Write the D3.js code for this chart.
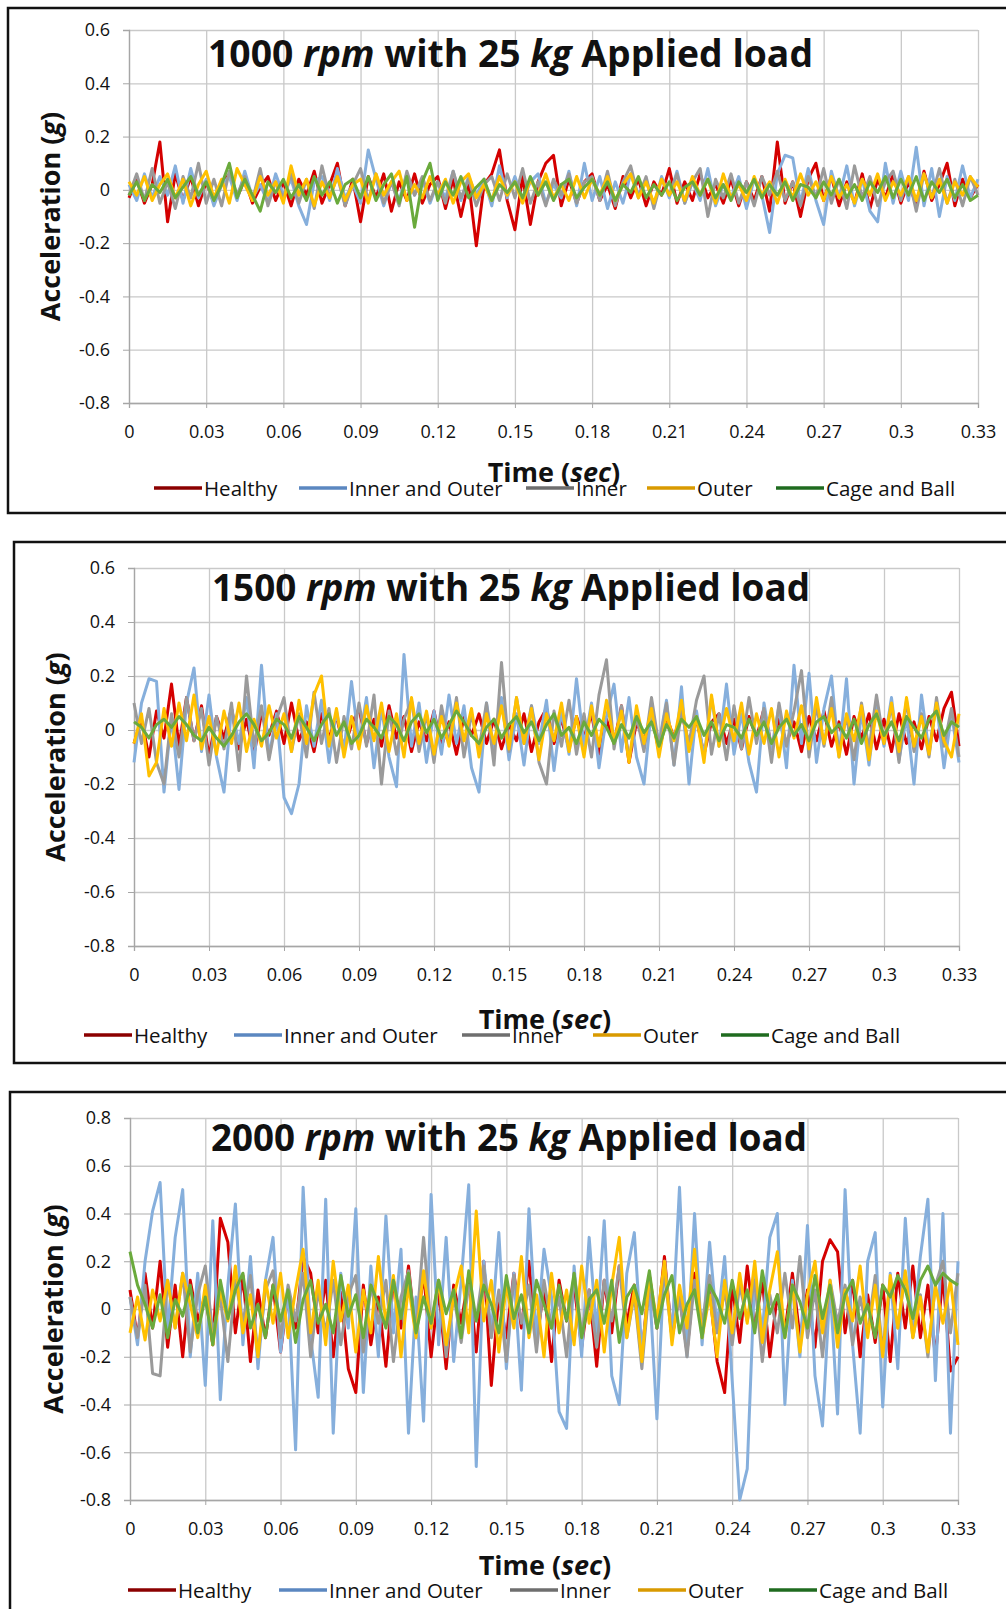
<!DOCTYPE html>
<html>
<head>
<meta charset="utf-8">
<script src="https://cdn.jsdelivr.net/npm/d3@7"></script>
<style>
  html, body { margin: 0; padding: 0; background: #fff; }
  svg { display: block; }
  text { font-family: "Open Sans", "Noto Sans", "DejaVu Sans", sans-serif; fill: #111; }
</style>
</head>
<body>
<div id="chart"></div>
<script>
// Schwingungssignale (Beschleunigung) für drei Drehzahlen, je fünf Lagerzustände.

const PANEL_SPEEDS = ["1000", "1500", "2000"];
const SERIES_NAMES = ["Healthy", "Inner and Outer", "Inner", "Outer", "Cage and Ball"];

const X_TICKS = [0, 0.03, 0.06, 0.09, 0.12, 0.15, 0.18, 0.21, 0.24, 0.27, 0.3, 0.33];
const X_TICK_LABELS = ["0", "0.03", "0.06", "0.09", "0.12", "0.15", "0.18", "0.21", "0.24", "0.27", "0.3", "0.33"];
const Y_TICKS_A = [-0.8, -0.6, -0.4, -0.2, 0, 0.2, 0.4, 0.6];
const Y_TICK_LABELS_A = ["-0.8", "-0.6", "-0.4", "-0.2", "0", "0.2", "0.4", "0.6"];
const Y_TICKS_B = [-0.8, -0.6, -0.4, -0.2, 0, 0.2, 0.4, 0.6, 0.8];
const Y_TICK_LABELS_B = ["-0.8", "-0.6", "-0.4", "-0.2", "0", "0.2", "0.4", "0.6", "0.8"];

// Abtastzeitpunkte (s)
const TIME = [
  0, 0.003, 0.006, 0.009, 0.012, 0.015, 0.018, 0.021, 0.024, 0.027,
  0.03, 0.033, 0.036, 0.039, 0.042, 0.045, 0.048, 0.051, 0.054, 0.057,
  0.06, 0.063, 0.066, 0.069, 0.072, 0.075, 0.078, 0.081, 0.084, 0.087,
  0.09, 0.093, 0.096, 0.099, 0.102, 0.105, 0.108, 0.111, 0.114, 0.117,
  0.12, 0.123, 0.126, 0.129, 0.132, 0.135, 0.138, 0.141, 0.144, 0.147,
  0.15, 0.153, 0.156, 0.159, 0.162, 0.165, 0.168, 0.171, 0.174, 0.177,
  0.18, 0.183, 0.186, 0.189, 0.192, 0.195, 0.198, 0.201, 0.204, 0.207,
  0.21, 0.213, 0.216, 0.219, 0.222, 0.225, 0.228, 0.231, 0.234, 0.237,
  0.24, 0.243, 0.246, 0.249, 0.252, 0.255, 0.258, 0.261, 0.264, 0.267,
  0.27, 0.273, 0.276, 0.279, 0.282, 0.285, 0.288, 0.291, 0.294, 0.297,
  0.3, 0.303, 0.306, 0.309, 0.312, 0.315, 0.318, 0.321, 0.324, 0.327,
  0.33
];

// --- 1000 rpm ---
const HEALTHY_1000 = [
  -0.03, 0.04, -0.05, 0.02, 0.18, -0.12, 0.06, -0.04, 0.05, -0.06,
  0.03, -0.05, 0.02, 0.06, -0.03, 0.04, -0.05, 0.01, 0.05, -0.04,
  0.03, -0.06, 0.04, -0.02, 0.07, -0.05, 0.02, 0.1, -0.06, 0.04,
  -0.12, 0.05, -0.03, 0.06, -0.08, 0.03, -0.04, 0.06, -0.05, 0.02,
  0.05, -0.07, 0.04, -0.1, 0.03, -0.21, 0.02, 0.06, 0.15, -0.04,
  -0.15, 0.05, -0.13, 0.03, 0.1, 0.13, -0.06, 0.04, -0.05, 0.03,
  0.06, -0.04, 0.02, -0.07, 0.05, -0.03, 0.04, -0.06, 0.03, -0.02,
  0.08, -0.05, 0.03, -0.04, 0.06, -0.03, 0.02, -0.05, 0.04, -0.06,
  0.03, -0.04, 0.05, -0.08, 0.18, -0.05, 0.03, -0.1, 0.04, 0.1,
  -0.04, 0.05, -0.06, 0.03, -0.05, 0.06, -0.07, 0.04, -0.03, 0.06,
  -0.05, 0.03, -0.06, 0.07, -0.04, 0.02, 0.1, -0.06, 0.04, -0.03,
  0.02
];
const INNER_OUTER_1000 = [
  0.02, -0.04, 0.06, -0.03, 0.05, -0.02, 0.09, -0.05, 0.08, -0.03,
  0.04, -0.06, 0.02, 0.05, -0.04, 0.07, -0.03, 0.02, -0.05, 0.06,
  -0.02, 0.04, -0.06, -0.13, 0.03, 0.05, -0.04, 0.08, -0.03, 0.02,
  -0.05, 0.15, 0.04, -0.06, 0.03, -0.04, 0.06, -0.02, 0.04, -0.05,
  0.03, -0.03, 0.07, -0.04, 0.05, -0.02, 0.04, -0.06, 0.09, -0.03,
  0.05, -0.04, 0.03, 0.06, -0.05, 0.02, -0.03, 0.07, -0.06, 0.1,
  -0.04, 0.05, -0.07, 0.03, -0.05, 0.06, -0.02, 0.04, -0.06, 0.05,
  -0.03, 0.07, -0.05, 0.03, -0.04, 0.08, -0.06, 0.02, -0.03, 0.05,
  -0.07, 0.04, -0.02, -0.16, 0.06, 0.13, 0.12, -0.05, 0.08, -0.04,
  -0.13, 0.07, -0.03, 0.09, -0.06, 0.04, -0.08, -0.12, 0.1, -0.05,
  0.07, -0.04, 0.16, -0.06, 0.08, -0.1, 0.05, -0.04, 0.09, -0.03,
  0.04
];
const INNER_1000 = [
  -0.02, 0.06, -0.04, 0.08, -0.05, 0.03, -0.07, 0.05, -0.03, 0.1,
  -0.05, 0.04, -0.06, 0.07, -0.02, 0.05, -0.04, 0.08, -0.06, 0.03,
  -0.03, 0.06, -0.05, 0.04, -0.07, 0.09, -0.03, 0.05, -0.06, 0.02,
  0.08, -0.04, 0.06, -0.05, 0.03, -0.06, 0.07, -0.02, 0.05, -0.04,
  0.03, -0.05, 0.07, -0.03, 0.04, -0.06, 0.02, 0.05, -0.04, 0.06,
  -0.03, 0.08, -0.05, 0.03, -0.06, 0.04, -0.02, 0.06, -0.05, 0.03,
  0.05, -0.04, 0.07, -0.06, 0.03, 0.09, -0.03, 0.05, -0.07, 0.04,
  -0.02, 0.06, -0.05, 0.03, 0.08, -0.1, 0.04, -0.03, 0.06, -0.05,
  0.03, -0.06, 0.05, -0.02, 0.07, -0.04, 0.03, -0.06, 0.05, -0.03,
  0.08, -0.05, 0.04, -0.07, 0.09, -0.03, 0.05, -0.06, 0.03, 0.07,
  -0.04, 0.05, -0.08, 0.06, -0.03, 0.08, -0.05, 0.04, -0.06, 0.05,
  -0.02
];
const OUTER_1000 = [
  0.03, -0.02, 0.05, -0.04, 0.02, 0.06, -0.03, 0.04, -0.06, 0.02,
  0.07, -0.03, 0.04, -0.05, 0.08, 0.02, -0.04, 0.05, -0.02, 0.03,
  -0.05, 0.09, -0.02, 0.04, -0.06, 0.03, -0.03, 0.05, -0.04, 0.02,
  0.04, -0.05, 0.06, -0.02, 0.03, 0.07, -0.04, 0.02, -0.03, 0.05,
  -0.02, 0.04, -0.05, 0.03, 0.06, -0.03, 0.02, -0.04, 0.05, -0.02,
  0.03, -0.05, 0.04, -0.02, 0.06, -0.03, 0.02, -0.04, 0.05, -0.03,
  0.04, -0.02, 0.05, -0.04, 0.02, 0.06, -0.03, 0.03, -0.05, 0.04,
  -0.02, 0.03, -0.04, 0.05, -0.02, 0.04, -0.05, 0.06, -0.03, 0.02,
  -0.04, 0.05, -0.02, 0.03, -0.05, 0.04, -0.03, 0.06, -0.02, 0.03,
  -0.04, 0.05, -0.03, 0.02, -0.05, 0.04, -0.02, 0.06, -0.04, 0.03,
  -0.02, 0.05, -0.04, 0.06, -0.03, 0.04, -0.05, 0.03, -0.02, 0.05,
  0.01
];
const CAGE_BALL_1000 = [
  -0.02, 0.03, -0.04, 0.02, -0.01, 0.04, -0.03, 0.01, 0.05, -0.02,
  0.03, -0.04, 0.02, 0.1, -0.03, 0.04, -0.02, -0.08, 0.03, -0.01,
  0.04, -0.03, 0.02, -0.04, 0.05, -0.02, 0.03, -0.05, 0.02, 0.04,
  -0.03, 0.05, -0.04, 0.02, 0.06, -0.05, 0.05, -0.14, 0.03, 0.1,
  -0.04, 0.03, -0.02, 0.05, -0.03, 0.01, 0.04, -0.04, 0.02, -0.01,
  0.03, -0.03, 0.05, -0.02, 0.03, -0.04, 0.02, 0.04, -0.03, 0.01,
  0.04, -0.02, 0.03, -0.04, 0.02, -0.01, 0.05, -0.03, 0.02, -0.02,
  0.03, -0.04, 0.01, 0.03, -0.02, 0.04, -0.03, 0.02, -0.04, 0.03,
  -0.01, 0.04, -0.03, 0.02, -0.02, 0.03, -0.04, 0.02, 0.01, -0.03,
  0.03, -0.02, 0.04, -0.03, 0.02, -0.04, 0.03, -0.01, 0.05, -0.03,
  0.04, -0.02, 0.05, -0.04, 0.03, -0.01, 0.04, -0.03, 0.02, -0.04,
  -0.02
];

// --- 1500 rpm ---
const HEALTHY_1500 = [
  -0.05, 0.04, -0.1, 0.07, -0.03, 0.17, -0.06, 0.12, -0.04, 0.09,
  -0.1, 0.05, -0.03, 0.08, -0.07, 0.04, -0.09, 0.06, -0.02, 0.07,
  -0.05, 0.1, -0.04, 0.03, -0.08, 0.06, -0.03, 0.05, -0.07, 0.02,
  0.08, -0.05, 0.04, -0.06, 0.09, -0.03, 0.05, -0.08, 0.03, -0.04,
  0.07, -0.06, 0.03, -0.09, 0.05, -0.02, 0.06, -0.05, 0.04, -0.07,
  0.02, -0.04, 0.06, -0.08, 0.03, 0.08, -0.05, 0.04, -0.07, 0.05,
  -0.03, 0.06, -0.09, 0.04, -0.05, 0.09, -0.12, 0.03, -0.04, 0.06,
  -0.08, 0.05, -0.03, 0.07, -0.06, 0.04, -0.09, 0.03, 0.06, -0.05,
  0.04, -0.07, 0.05, -0.03, 0.08, -0.06, 0.04, -0.05, 0.03, -0.08,
  0.05, -0.04, 0.07, -0.06, 0.03, -0.09, 0.05, -0.03, 0.06, -0.07,
  0.04, -0.08, 0.06, -0.05, 0.03, -0.07, 0.05, -0.04, 0.08, 0.14,
  -0.06
];
const INNER_OUTER_1500 = [
  -0.12, 0.1, 0.19, 0.18, -0.23, 0.05, -0.22, 0.1, 0.23, -0.08,
  0.13, -0.1, -0.23, 0.08, -0.05, 0.12, -0.14, 0.24, -0.1, 0.06,
  -0.25, -0.31, -0.2, 0.09, -0.06, 0.11, -0.12, 0.07, -0.08, 0.18,
  -0.05, 0.12, -0.14, 0.08, -0.1, -0.21, 0.28, -0.06, 0.1, -0.12,
  0.07, -0.09, 0.13, -0.05, 0.09, -0.14, -0.23, 0.1, -0.07, 0.12,
  -0.11, 0.06, -0.13, 0.09, -0.05, 0.11, -0.15, 0.07, -0.09, 0.19,
  -0.06, 0.1, -0.14, 0.05, 0.17, -0.08, 0.12, -0.1, -0.2, 0.08,
  -0.05, 0.11, -0.13, 0.16, -0.2, 0.07, -0.1, 0.12, -0.06, 0.17,
  -0.09, 0.06, -0.12, -0.23, 0.1, -0.07, 0.09, -0.14, 0.24, -0.05,
  0.21, -0.12, 0.08, 0.2, -0.1, 0.19, -0.2, 0.07, -0.13, 0.1,
  -0.06, 0.12, -0.11, 0.05, -0.2, 0.13, -0.08, 0.1, -0.14, 0.06,
  -0.12
];
const INNER_1500 = [
  0.1, -0.05, 0.08, -0.12, -0.2, 0.06, -0.1, 0.12, -0.04, 0.08,
  -0.13, 0.05, -0.07, 0.1, -0.15, 0.2, -0.06, 0.09, -0.11, 0.04,
  0.12, -0.08, 0.06, -0.1, 0.14, -0.05, 0.08, -0.12, 0.05, -0.07,
  0.1, -0.06, 0.13, -0.2, 0.07, -0.09, 0.04, 0.11, -0.08, 0.06,
  -0.12, 0.09, -0.05, 0.12, -0.1, 0.06, -0.07, 0.1, -0.13, 0.25,
  -0.08, 0.12, -0.05, 0.09, -0.12, -0.2, 0.07, -0.06, 0.11, -0.09,
  0.06, -0.1, 0.13, 0.26, -0.07, 0.09, -0.11, 0.05, -0.08, 0.12,
  -0.06, 0.1, -0.13, 0.07, -0.05, 0.11, 0.2, -0.09, 0.06, -0.11,
  0.09, -0.07, 0.12, -0.05, 0.08, -0.12, 0.1, -0.06, 0.07, 0.22,
  -0.1, 0.09, -0.06, 0.12, -0.08, 0.05, -0.11, 0.1, -0.07, 0.13,
  -0.05, 0.09, -0.12, 0.11, -0.08, 0.06, -0.1, 0.12, -0.06, 0.08,
  -0.1
];
const OUTER_1500 = [
  -0.05, 0.06, -0.17, -0.12, 0.08, -0.06, 0.1, -0.04, 0.13, -0.07,
  0.05, -0.09, 0.07, -0.05, 0.1, -0.08, 0.04, -0.06, 0.09, -0.03,
  0.06, -0.08, 0.11, -0.05, 0.13, 0.2, -0.06, 0.08, -0.1, 0.05,
  -0.07, 0.09, -0.04, 0.1, -0.08, 0.06, -0.1, 0.12, -0.05, 0.07,
  -0.09, 0.05, -0.06, 0.1, -0.04, 0.08, -0.1, 0.06, -0.05, 0.09,
  -0.07, 0.12, -0.05, 0.08, -0.11, 0.06, -0.04, 0.1, -0.08, 0.05,
  -0.1, 0.09, -0.06, 0.11, -0.04, 0.07, -0.12, 0.09, -0.05, 0.08,
  -0.1, 0.06, -0.04, 0.11, -0.08, 0.05, -0.12, 0.13, -0.06, 0.08,
  -0.04, 0.1, -0.09, 0.06, -0.05, 0.08, -0.1, 0.07, -0.03, 0.09,
  -0.07, 0.12, -0.05, 0.08, -0.1, 0.06, -0.04, 0.09, -0.11, 0.07,
  -0.05, 0.1, -0.08, 0.12, -0.06, 0.05, -0.09, 0.1, -0.04, -0.1,
  0.06
];
const CAGE_BALL_1500 = [
  0.03, 0.01, -0.03, 0.02, 0.04, 0.01, 0.05, 0.02, -0.02, -0.04,
  0.01, -0.03, -0.06, -0.02, 0.03, 0.06, 0.02, -0.04, -0.01, 0.04,
  0.02, -0.03, 0.05, 0.01, -0.04, 0.02, 0.06, -0.02, 0.03, -0.05,
  -0.02, 0.04, 0.01, -0.03, 0.05, 0.02, -0.04, 0.03, 0.06, -0.01,
  0.04, -0.03, 0.02, 0.07, 0.03, -0.02, -0.05, 0.01, 0.04, -0.03,
  0.02, 0.05, -0.01, 0.03, -0.04, 0.02, 0.06, -0.02, 0.01, -0.05,
  0.03, -0.02, 0.04, 0.01, -0.05, 0.02, -0.03, 0.05, -0.01, 0.03,
  -0.06, 0.02, -0.03, 0.04, 0.01, 0.05, -0.02, 0.03, -0.04, 0.02,
  0.01, -0.03, 0.04, -0.02, 0.03, -0.05, 0.01, 0.04, -0.02, 0.02,
  -0.04, 0.03, 0.05, -0.01, 0.02, -0.03, 0.04, -0.05, 0.02, 0.06,
  -0.02, 0.03, -0.04, 0.05, 0.01, -0.03, 0.04, 0.07, -0.02, 0.03,
  0.01
];

// --- 2000 rpm ---
const HEALTHY_2000 = [
  0.08, -0.12, 0.15, -0.08, 0.2, -0.16, 0.1, -0.2, 0.12, -0.05,
  0.06, -0.15, 0.38, 0.28, -0.1, 0.14, -0.22, 0.08, -0.12, 0.1,
  -0.18, 0.06, -0.08, 0.22, 0.15, -0.1, 0.12, -0.2, 0.07, -0.25,
  -0.35, 0.1, -0.15, 0.05, -0.24, 0.12, -0.08, 0.18, -0.12, 0.15,
  -0.2, 0.08, -0.25, 0.1, -0.06, 0.14, -0.18, 0.2, -0.32, 0.06,
  -0.12, 0.15, -0.08, 0.2, -0.14, 0.09, -0.22, 0.12, -0.05, 0.1,
  -0.16, 0.08, -0.24, 0.12, -0.1, 0.18, -0.06, 0.1, -0.2, 0.14,
  -0.08, 0.22, -0.12, 0.06, -0.18, 0.15, -0.1, 0.08, -0.22, -0.35,
  0.1, -0.14, 0.18, -0.08, 0.12, -0.2, 0.06, -0.1, 0.15, -0.12,
  0.08, -0.16, 0.2, 0.29, 0.24, -0.1, 0.12, -0.2, 0.06, -0.14,
  0.1, -0.22, 0.15, -0.08, 0.18, -0.12, 0.1, -0.2, 0.14, -0.26,
  -0.2
];
const INNER_OUTER_2000 = [
  0.05, -0.15, 0.2, 0.41, 0.53, -0.1, 0.3, 0.5, -0.2, 0.15,
  -0.32, 0.37, -0.38, 0.1, 0.44, -0.15, 0.22, -0.25, 0.12, 0.3,
  -0.18, 0.08, -0.59, 0.51, -0.12, -0.37, 0.46, -0.52, 0.15, -0.08,
  0.42, -0.35, 0.18, -0.2, 0.39, -0.1, 0.25, -0.52, 0.05, -0.47,
  0.48, -0.15, 0.3, -0.22, 0.12, 0.52, -0.66, 0.2, -0.1, 0.32,
  -0.25, 0.15, -0.34, 0.42, -0.12, 0.25, 0.05, -0.43, -0.5, 0.18,
  -0.2, 0.3, -0.1, 0.37, -0.28, -0.4, 0.15, 0.32, -0.18, 0.1,
  -0.46, 0.2, -0.12, 0.51, -0.2, 0.4, -0.15, 0.28, -0.08, 0.22,
  -0.3, -0.8, -0.67, 0.15, -0.1, 0.3, 0.4, -0.4, 0.12, -0.2,
  0.35, -0.28, -0.49, 0.1, -0.44, 0.5, -0.15, -0.52, 0.2, 0.32,
  -0.41, 0.15, -0.25, 0.38, -0.1, 0.22, 0.46, -0.3, 0.4, -0.52,
  0.2
];
const INNER_2000 = [
  0.05, -0.12, 0.1, -0.27, -0.28, 0.12, -0.08, 0.15, -0.18, 0.06,
  0.18, -0.1, 0.05, -0.22, 0.12, -0.06, 0.14, -0.2, 0.08, 0.16,
  -0.12, 0.1, -0.05, 0.15, -0.2, 0.08, -0.1, 0.12, -0.15, 0.06,
  0.14, -0.18, 0.1, -0.06, 0.12, -0.22, 0.05, 0.16, -0.1, 0.3,
  -0.08, 0.12, -0.2, 0.06, -0.14, 0.1, -0.05, 0.18, -0.12, 0.08,
  -0.22, 0.14, -0.06, 0.1, -0.18, 0.12, -0.08, 0.05, -0.2, 0.15,
  -0.1, 0.08, -0.16, 0.12, -0.05, 0.18, -0.12, 0.06, -0.25, 0.1,
  -0.08, 0.15, -0.12, 0.05, -0.2, 0.12, -0.06, 0.14, -0.1, 0.08,
  -0.15, 0.1, -0.05, 0.12, -0.22, 0.06, -0.1, 0.15, -0.08, 0.22,
  -0.12, 0.08, -0.2, 0.12, -0.06, 0.1, -0.15, 0.05, -0.1, 0.14,
  -0.18, 0.12, -0.08, 0.15, -0.12, 0.06, -0.2, 0.1, 0.2, -0.1,
  0.15
];
const OUTER_2000 = [
  -0.1, 0.05, -0.13, 0.08, -0.05, 0.12, -0.08, 0.15, 0.02, -0.12,
  0.1, -0.15, 0.08, -0.05, 0.18, -0.1, 0.06, -0.2, 0.12, -0.06,
  0.15, -0.12, 0.08, 0.25, -0.1, 0.12, -0.15, 0.2, -0.05, 0.1,
  -0.18, 0.08, -0.1, 0.22, -0.06, 0.14, -0.2, 0.1, -0.12, 0.16,
  -0.08, 0.12, -0.15, 0.05, 0.18, -0.1, 0.41, -0.05, 0.12, -0.18,
  0.1, -0.08, 0.22, -0.12, 0.06, -0.2, 0.15, -0.1, 0.08, -0.15,
  0.18, -0.06, 0.12, -0.18, 0.1, 0.3, -0.12, 0.08, -0.22, 0.14,
  -0.05, 0.2, -0.15, 0.1, -0.08, 0.25, -0.12, 0.06, -0.2, 0.12,
  -0.1, 0.15, -0.06, 0.2, -0.14, 0.08, 0.24, -0.12, 0.1, -0.18,
  0.06, 0.2, -0.1, 0.12, -0.16, 0.08, -0.05, 0.18, -0.12, 0.1,
  -0.2, 0.14, -0.08, 0.16, -0.12, 0.05, -0.18, 0.1, -0.06, 0.12,
  -0.15
];
const CAGE_BALL_2000 = [
  0.24, 0.1, 0.02, -0.08, 0.06, -0.12, 0.04, -0.03, 0.1, -0.1,
  0.05, -0.15, 0.12, -0.04, 0.08, 0.15, -0.08, 0.02, -0.12, 0.1,
  -0.05, 0.08, -0.14, 0.04, 0.12, -0.06, 0.02, -0.1, 0.14, -0.03,
  0.06, -0.12, 0.1, 0.02, -0.08, 0.12, -0.04, 0.15, -0.1, 0.05,
  -0.06, 0.12, -0.02, 0.08, -0.12, 0.16, -0.05, 0.1, 0.02, -0.1,
  0.14, -0.04, 0.06, -0.1, 0.12, 0.02, -0.08, 0.1, -0.05, 0.15,
  -0.12, 0.04, 0.08, -0.06, 0.12, -0.14, 0.05, 0.1, -0.02, 0.16,
  -0.08, 0.06, 0.14, -0.1, 0.02, 0.08, -0.12, 0.1, 0.04, -0.06,
  0.12, -0.04, 0.08, -0.1, 0.16, -0.02, 0.06, -0.12, 0.1, 0.03,
  -0.08, 0.14, -0.04, 0.1, -0.1, 0.06, 0.12, -0.06, 0.02, -0.12,
  0.1, 0.05, 0.14, 0.08, -0.04, 0.12, 0.18, 0.1, 0.15, 0.12,
  0.1
];

const PANEL_SERIES = [
  [HEALTHY_1000, INNER_OUTER_1000, INNER_1000, OUTER_1000, CAGE_BALL_1000],
  [HEALTHY_1500, INNER_OUTER_1500, INNER_1500, OUTER_1500, CAGE_BALL_1500],
  [HEALTHY_2000, INNER_OUTER_2000, INNER_2000, OUTER_2000, CAGE_BALL_2000]
];
const PANEL_Y_TICKS = [Y_TICKS_A, Y_TICKS_A, Y_TICKS_B];
const PANEL_Y_LABELS = [Y_TICK_LABELS_A, Y_TICK_LABELS_A, Y_TICK_LABELS_B];

(function () {
  const W = 1006, H = 1609;

  // Farben: Linien im Plot (hell) und Legendenstriche (dunkler)
  const LINE_COLORS = ["#d40000", "#86afdc", "#9a9a9a", "#ffc000", "#6aaa3c"];
  const LEGEND_COLORS = ["#8b0000", "#5b87c0", "#6e6e6e", "#d99a00", "#1f6b1f"];

  // Panel-Geometrie (px)
  const LAYOUT = [
    { box: [8, 8, 1030, 513], plot: [129, 978, 30, 403], title: [208, 67, 605],
      yTitleX: 49, timeX: 554, timeY: 471, legendY: 488, legendX: [154, 299, 526, 647, 776] },
    { box: [14, 542, 1030, 1063], plot: [134, 959, 568, 946], title: [212, 601, 598],
      yTitleX: 54, timeX: 545, timeY: 1018, legendY: 1035, legendX: [84, 234, 462, 593, 721] },
    { box: [10, 1092, 1030, 1660], plot: [130, 958, 1118, 1500], title: [211, 1151, 596],
      yTitleX: 52, timeX: 545, timeY: 1564, legendY: 1590, legendX: [128, 279, 510, 638, 769] }
  ];

  const svg = d3.select("#chart").append("svg")
    .attr("width", W)
    .attr("height", H)
    .attr("viewBox", `0 0 ${W} ${H}`);

  svg.append("rect").attr("width", W).attr("height", H).attr("fill", "#fff");

  LAYOUT.forEach((L, p) => {
    const [left, right, top, bottom] = L.plot;
    const yTicks = PANEL_Y_TICKS[p];
    const yLabels = PANEL_Y_LABELS[p];
    const g = svg.append("g").attr("class", "panel panel-" + p);

    // Rahmen
    g.append("rect")
      .attr("x", L.box[0]).attr("y", L.box[1])
      .attr("width", L.box[2] - L.box[0]).attr("height", L.box[3] - L.box[1])
      .attr("fill", "none").attr("stroke", "#111").attr("stroke-width", 2.5);

    const x = d3.scaleLinear().domain([0, 0.33]).range([left, right]);
    const y = d3.scaleLinear().domain([yTicks[0], yTicks[yTicks.length - 1]]).range([bottom, top]);

    // Gitter
    g.append("g")
      .attr("transform", `translate(${left},0)`)
      .call(d3.axisLeft(y).tickValues(yTicks).tickSize(-(right - left)).tickFormat(""))
      .call(s => s.select(".domain").remove())
      .call(s => s.selectAll("line").attr("stroke", "#c9c9c9").attr("stroke-width", 1.3));
    g.append("g")
      .attr("transform", `translate(0,${bottom})`)
      .call(d3.axisBottom(x).tickValues(X_TICKS).tickSize(-(bottom - top)).tickFormat(""))
      .call(s => s.select(".domain").remove())
      .call(s => s.selectAll("line").attr("stroke", "#c9c9c9").attr("stroke-width", 1.3));

    // Achsen
    g.append("g")
      .attr("transform", `translate(${left},0)`)
      .call(d3.axisLeft(y).tickValues(yTicks).tickSize(6).tickPadding(13)
        .tickFormat((d, i) => yLabels[i]))
      .call(s => s.select(".domain").attr("stroke", "#a6a6a6").attr("stroke-width", 1.3))
      .call(s => s.selectAll("line").attr("stroke", "#a6a6a6"))
      .call(s => s.selectAll("text").attr("font-size", 18).attr("fill", "#222")
        .attr("font-family", '"Open Sans", "Noto Sans", sans-serif'));
    g.append("g")
      .attr("transform", `translate(0,${bottom})`)
      .call(d3.axisBottom(x).tickValues(X_TICKS).tickSize(5).tickPadding(17)
        .tickFormat((d, i) => X_TICK_LABELS[i]))
      .call(s => s.select(".domain").attr("stroke", "#a6a6a6").attr("stroke-width", 1.3))
      .call(s => s.selectAll("line").attr("stroke", "#a6a6a6"))
      .call(s => s.selectAll("text").attr("font-size", 18).attr("fill", "#222")
        .attr("font-family", '"Open Sans", "Noto Sans", sans-serif'));

    // Signale
    const line = d3.line()
      .x((d, i) => x(TIME[i]))
      .y(d => y(d));
    PANEL_SERIES[p].forEach((vals, s) => {
      g.append("path")
        .datum(vals.slice(0, TIME.length))
        .attr("d", line)
        .attr("fill", "none")
        .attr("stroke", LINE_COLORS[s])
        .attr("stroke-width", 3)
        .attr("stroke-linejoin", "round");
    });

    // Titel
    const t = g.append("text")
      .attr("x", L.title[0]).attr("y", L.title[1])
      .attr("font-size", 37).attr("font-weight", "bold")
      .attr("textLength", L.title[2]).attr("lengthAdjust", "spacingAndGlyphs")
      .style("white-space", "pre");
    t.append("tspan").text(PANEL_SPEEDS[p] + " ");
    t.append("tspan").attr("font-style", "italic").text("rpm");
    t.append("tspan").text(" with 25 ");
    t.append("tspan").attr("font-style", "italic").text("kg");
    t.append("tspan").text(" Applied load");

    // Y-Achsentitel
    const yt = g.append("text")
      .attr("transform", `translate(${L.yTitleX},${(top + bottom) / 2}) rotate(-90)`)
      .attr("text-anchor", "middle").attr("dominant-baseline", "central")
      .attr("font-size", 27).attr("font-weight", "bold")
      .style("white-space", "pre");
    yt.append("tspan").text("Acceleration (");
    yt.append("tspan").attr("font-style", "italic").text("g");
    yt.append("tspan").text(")");

    // X-Achsentitel
    const xt = g.append("text")
      .attr("x", L.timeX).attr("y", L.timeY)
      .attr("text-anchor", "middle").attr("dominant-baseline", "central")
      .attr("font-size", 27).attr("font-weight", "bold")
      .style("white-space", "pre");
    xt.append("tspan").text("Time (");
    xt.append("tspan").attr("font-style", "italic").text("sec");
    xt.append("tspan").text(")");

    // Legende
    SERIES_NAMES.forEach((name, s) => {
      const lx = L.legendX[s];
      g.append("line")
        .attr("x1", lx).attr("x2", lx + 48)
        .attr("y1", L.legendY).attr("y2", L.legendY)
        .attr("stroke", LEGEND_COLORS[s]).attr("stroke-width", 3.5);
      g.append("text")
        .attr("x", lx + 50).attr("y", L.legendY)
        .attr("dominant-baseline", "central")
        .attr("font-size", 20.5).attr("fill", "#222")
        .text(name);
    });
  });
})();
</script>
</body>
</html>
